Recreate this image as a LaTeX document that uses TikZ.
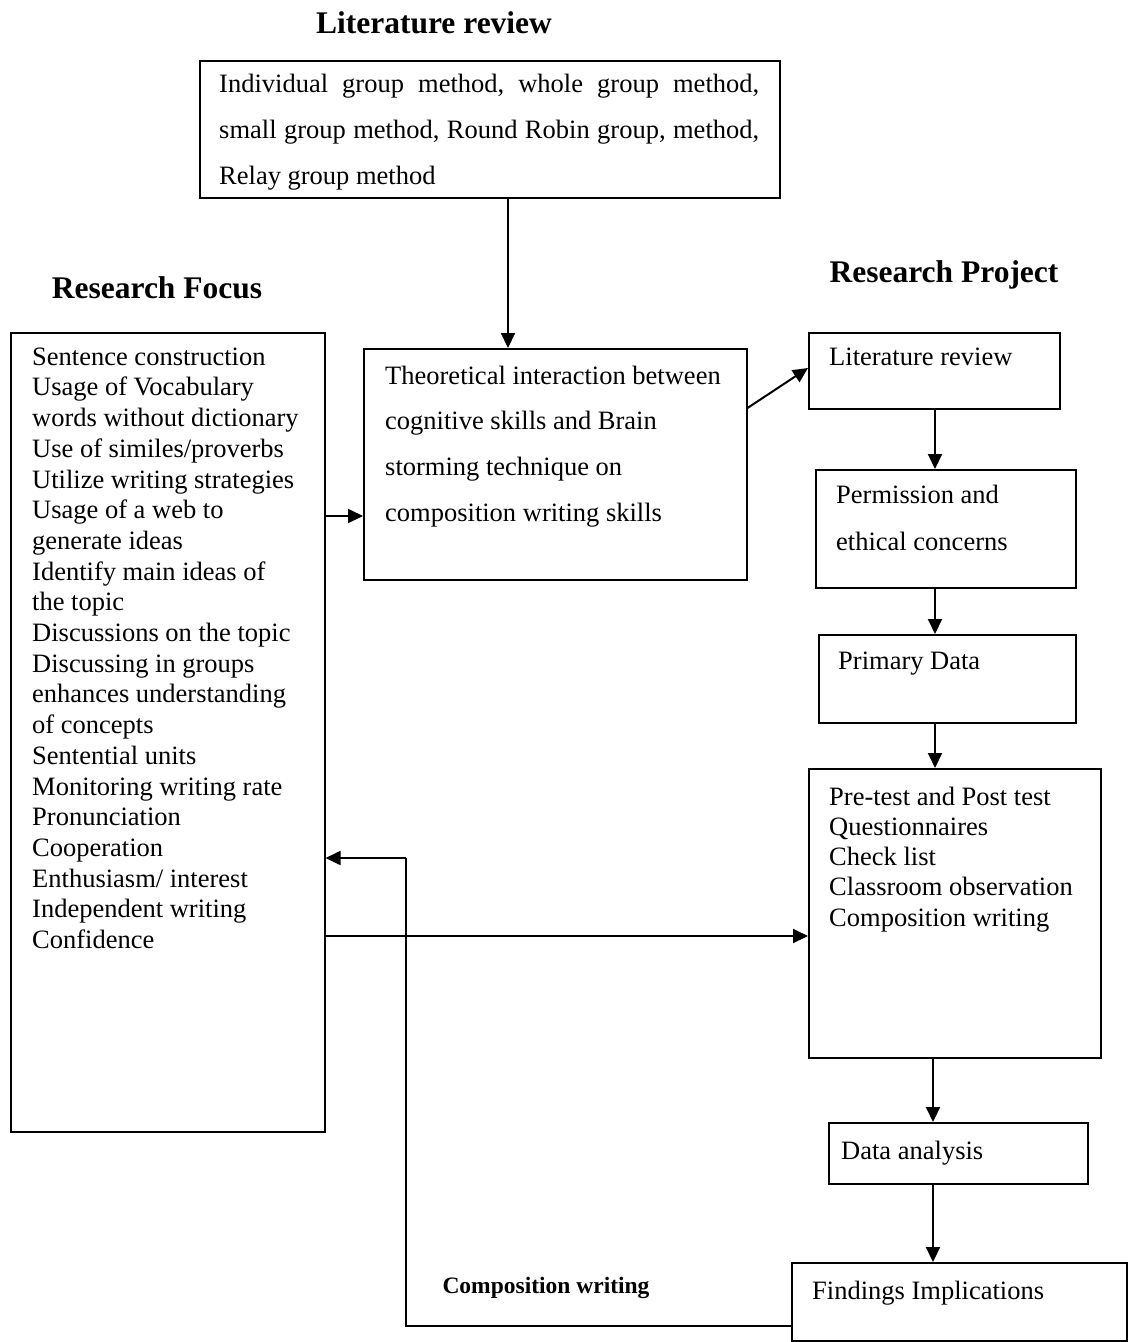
\documentclass[tikz,border=0pt]{standalone}
\usepackage{fontspec}
\setmainfont{Liberation Serif}
\usetikzlibrary{arrows.meta}

\begin{document}
\begin{tikzpicture}[
  x=1pt,
  y=-1pt,
  frame/.style={draw=black, line width=1.5pt, inner sep=0pt, anchor=north west},
  entry/.style={
    anchor=north west,
    inner sep=0pt,
    align=left,
    font=\fontsize{26.5}{30.7}\selectfont
  },
  spaced/.style={font=\fontsize{26.5}{46}\selectfont},
  heading/.style={
    anchor=base,
    inner sep=0pt,
    font=\fontsize{31.5}{36}\selectfont\bfseries
  },
  arrow/.style={draw=black, line width=2pt, -{Triangle[length=15pt,width=14pt]}}
]

\useasboundingbox (0,0) rectangle (1128,1342);

% Box frames are placed by their top left corners, in pixels of the layout.
\node[frame, minimum width=580pt, minimum height=137pt] (review) at (199,60) {};
\node[frame, minimum width=314pt, minimum height=799pt] (focus) at (10,332) {};
\node[frame, minimum width=383pt, minimum height=231pt] (theory) at (363,348) {};
\node[frame, minimum width=251pt, minimum height=76pt] (litproj) at (808,332) {};
\node[frame, minimum width=260pt, minimum height=118pt] (ethics) at (815,469) {};
\node[frame, minimum width=257pt, minimum height=88pt] (primary) at (818,634) {};
\node[frame, minimum width=292pt, minimum height=289pt] (tools) at (808,768) {};
\node[frame, minimum width=259pt, minimum height=61pt] (analysis) at (828,1122) {};
\node[frame, minimum width=335pt, minimum height=78pt] (findings) at (791,1262) {};

% Headings
\node[heading] (reviewhead) at (434,33) {Literature review};
\node[heading] (focushead) at (157,298) {Research Focus};
\node[heading] (projecthead) at (944,282) {Research Project};
\node[heading, font=\fontsize{23.5}{28}\selectfont\bfseries] (looplabel) at (546,1293) {Composition writing};

% Texts inside the boxes
\node[entry, spaced] (reviewtext) at ([shift={(20,13.5)}]review.north west) {%
  \makebox[540pt]{Individual\hfill group\hfill method,\hfill whole\hfill group\hfill method,}\\
  \makebox[540pt]{small\hfill group\hfill method,\hfill Round\hfill Robin\hfill group,\hfill method,}\\
  Relay group method};
\node[entry] (focustext) at ([shift={(22,15.5)}]focus.north west) {%
  Sentence construction\\ Usage of Vocabulary\\ words without dictionary\\
  Use of similes/proverbs\\ Utilize writing strategies\\ Usage of a web to\\
  generate ideas\\ Identify main ideas of\\ the topic\\ Discussions on the topic\\
  Discussing in groups\\ enhances understanding\\ of concepts\\ Sentential units\\
  Monitoring writing rate\\ Pronunciation\\ Cooperation\\ Enthusiasm/ interest\\
  Independent writing\\ Confidence};
\node[entry, font=\fontsize{26.5}{45.7}\selectfont] (theorytext) at ([shift={(22,17.5)}]theory.north west) {%
  Theoretical interaction between\\ cognitive skills and Brain\\
  storming technique on\\ composition writing skills};
\node[entry] (litprojtext) at ([shift={(21,15.5)}]litproj.north west) {Literature review};
\node[entry, font=\fontsize{26.5}{47}\selectfont] (ethicstext) at ([shift={(21,15.5)}]ethics.north west) {%
  Permission and\\ ethical concerns};
\node[entry] (primarytext) at ([shift={(20,17.5)}]primary.north west) {Primary Data};
\node[entry, font=\fontsize{26.5}{30.3}\selectfont] (toolstext) at ([shift={(21,18.5)}]tools.north west) {%
  Pre-test and Post test\\ Questionnaires\\ Check list\\
  Classroom observation\\ Composition writing};
\node[entry] (analysistext) at ([shift={(13,18.5)}]analysis.north west) {Data analysis};
\node[entry] (findingstext) at ([shift={(21,18.5)}]findings.north west) {Findings Implications};

% Connectors
\draw[arrow] (review.south -| 508,0) -- (theory.north -| 508,0);
\draw[arrow] (focus.east |- 0,516) -- (theory.west |- 0,516);
\draw[arrow] (theory.east |- 0,408) -- (litproj.west |- 0,368);
\draw[arrow] (litproj.south -| 935,0) -- (ethics.north -| 935,0);
\draw[arrow] (ethics.south -| 935,0) -- (primary.north -| 935,0);
\draw[arrow] (primary.south -| 935,0) -- (tools.north -| 935,0);
\draw[arrow] (focus.east |- 0,936) -- (tools.west |- 0,936);
\draw[arrow] (tools.south -| 933,0) -- (analysis.north -| 933,0);
\draw[arrow] (analysis.south -| 933,0) -- (findings.north -| 933,0);

% Feedback loop back to the research focus
\coordinate (loopcorner) at (406,858);
\draw[line width=1.6pt] (findings.west |- 0,1326) -| (loopcorner);
\draw[arrow, line width=1.6pt] (loopcorner) -- (focus.east |- loopcorner);

\end{tikzpicture}
\end{document}
